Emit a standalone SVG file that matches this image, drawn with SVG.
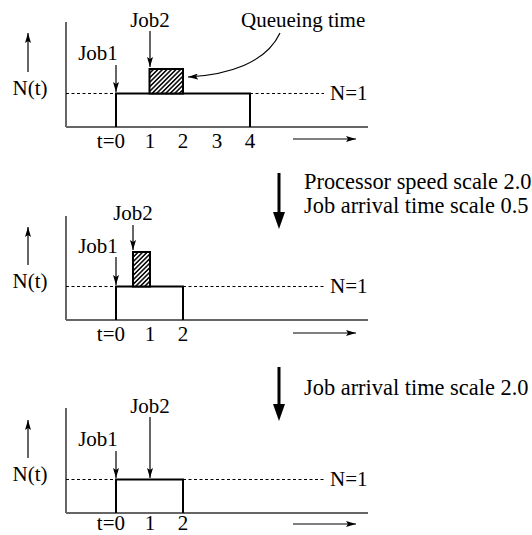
<svg xmlns="http://www.w3.org/2000/svg" width="532" height="535" viewBox="0 0 532 535">
<style>
text{font-family:'Liberation Serif',serif;font-size:21px;fill:#000}
.st{font-size:22.4px}
.ax{stroke:#666;stroke-width:2;fill:none}
.dash{stroke:#000;stroke-width:1;stroke-dasharray:3 2.5;fill:none}
.box{stroke:#000;stroke-width:2;fill:none}
.hat{fill:url(#hatch);stroke:#000;stroke-width:2}
.thin{stroke:#000;stroke-width:1.2;fill:none;marker-end:url(#ah)}
.big{stroke:#000;stroke-width:3;fill:none}
.m{text-anchor:middle}
</style>
<defs>
<pattern id="hatch" width="3.2" height="3.2" patternUnits="userSpaceOnUse" patternTransform="rotate(45)">
<rect width="3.2" height="3.2" fill="#fff"/>
<line x1="0.8" y1="0" x2="0.8" y2="3.2" stroke="#000" stroke-width="1.5"/>
</pattern>
<marker id="ah" viewBox="0 0 10 6" refX="10" refY="3" markerWidth="10" markerHeight="6" markerUnits="userSpaceOnUse" orient="auto">
<path d="M0,0 L10,3 L0,6 L2,3 z" fill="#000"/>
</marker>
</defs>

<g id="panel1">
<line class="ax" x1="66" y1="22" x2="66" y2="127"/>
<line class="ax" x1="66" y1="127" x2="368" y2="127"/>
<line class="dash" x1="66" y1="93.5" x2="116" y2="93.5"/>
<line class="dash" x1="250" y1="93.5" x2="324" y2="93.5"/>
<path class="box" d="M116,127 V93.5 H250 V127"/>
<rect class="hat" x="149.5" y="69" width="33.5" height="24.5"/>
<text x="330" y="100">N=1</text>
<text x="30" y="95" class="m">N(t)</text>
<text x="98" y="60" class="m">Job1</text>
<text x="150" y="27" class="m">Job2</text>
<text x="241" y="27">Queueing time</text>
<text x="125" y="148" text-anchor="end">t=0</text>
<text x="150" y="148" class="m">1</text>
<text x="183" y="148" class="m">2</text>
<text x="217" y="148" class="m">3</text>
<text x="250" y="148" class="m">4</text>
</g>

<g id="panel2">
<line class="ax" x1="66" y1="216" x2="66" y2="320"/>
<line class="ax" x1="66" y1="320" x2="368" y2="320"/>
<line class="dash" x1="66" y1="286.5" x2="116" y2="286.5"/>
<line class="dash" x1="183" y1="286.5" x2="324" y2="286.5"/>
<path class="box" d="M116,320 V286.5 H183 V320"/>
<rect class="hat" x="133" y="252" width="17" height="34.5"/>
<text x="330" y="293">N=1</text>
<text x="30" y="288" class="m">N(t)</text>
<text x="98" y="253" class="m">Job1</text>
<text x="133" y="220" class="m">Job2</text>
<text x="125" y="341" text-anchor="end">t=0</text>
<text x="150" y="341" class="m">1</text>
<text x="183" y="341" class="m">2</text>
</g>

<g id="panel3">
<line class="ax" x1="66" y1="408" x2="66" y2="513"/>
<line class="ax" x1="66" y1="513" x2="368" y2="513"/>
<line class="dash" x1="66" y1="479.5" x2="116" y2="479.5"/>
<line class="dash" x1="183" y1="479.5" x2="324" y2="479.5"/>
<path class="box" d="M116,513 V479.5 H183 V513"/>
<text x="330" y="486">N=1</text>
<text x="30" y="481" class="m">N(t)</text>
<text x="98" y="446" class="m">Job1</text>
<text x="150" y="413" class="m">Job2</text>
<text x="125" y="530" text-anchor="end">t=0</text>
<text x="150" y="530" class="m">1</text>
<text x="183" y="530" class="m">2</text>
</g>

<g id="step1">
<text class="st" x="304" y="189">Processor speed scale 2.0</text>
<text class="st" x="304" y="213">Job arrival time scale 0.5</text>
</g>
<g id="step2">
<text class="st" x="304" y="395">Job arrival time scale 2.0</text>
</g>

<g id="connectors">
<line class="thin" x1="28" y1="72" x2="28" y2="33"/>
<line class="thin" x1="116" y1="65" x2="116" y2="92"/>
<line class="thin" x1="150" y1="31" x2="150" y2="67"/>
<path class="thin" d="M280,33 C266,63 228,75 188,77"/>
<line class="thin" x1="293" y1="139" x2="356" y2="139"/>

<line class="thin" x1="28" y1="265" x2="28" y2="227"/>
<line class="thin" x1="116" y1="257" x2="116" y2="285"/>
<line class="thin" x1="133" y1="225" x2="133" y2="250"/>
<line class="thin" x1="293" y1="333" x2="356" y2="333"/>

<line class="thin" x1="28" y1="458" x2="28" y2="420"/>
<line class="thin" x1="116" y1="451" x2="116" y2="478"/>
<line class="thin" x1="150" y1="417" x2="150" y2="478"/>
<line class="thin" x1="293" y1="524" x2="356" y2="524"/>

<line class="big" x1="279" y1="173" x2="279" y2="215"/>
<path d="M273,212 L285,212 L279,229 z" fill="#000"/>
<line class="big" x1="279" y1="367" x2="279" y2="407"/>
<path d="M273,404 L285,404 L279,421 z" fill="#000"/>
</g>
</svg>
